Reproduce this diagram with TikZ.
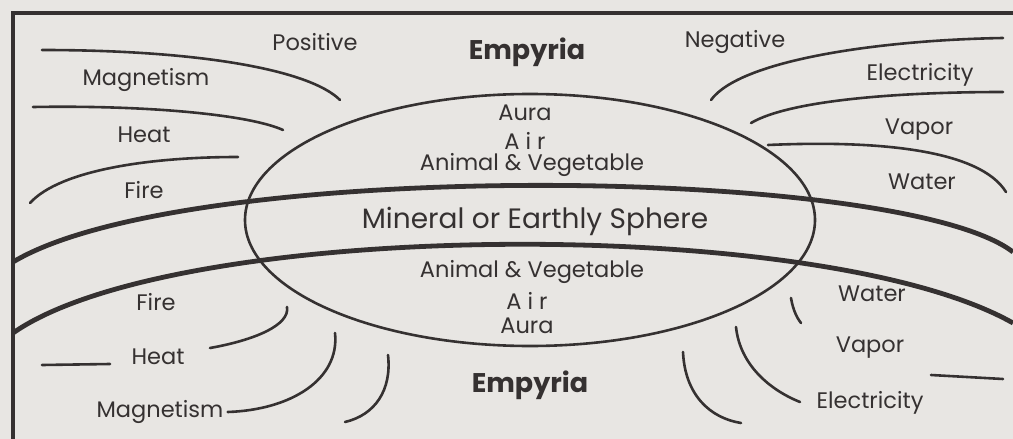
\documentclass[tikz,border=0pt]{standalone}
\usepackage{fontspec}
\setmainfont{Poppins}
\definecolor{ink}{HTML}{353131}
\definecolor{paper}{HTML}{E8E6E3}

\begin{document}
\begin{tikzpicture}[x=1pt,y=-1pt,
  every node/.style={text=ink,inner sep=0pt,font=\fontsize{22.5}{22.5}\selectfont},
  empyria/.style={font=\fontsize{27}{27}\selectfont\bfseries},
  earthly/.style={font=\fontsize{28}{28}\selectfont},
  curve/.style={draw=ink,line width=2.6pt,line cap=round},
  band/.style={draw=ink,line width=4.8pt}]
\fill[paper] (0,0) rectangle (1013,439);
\useasboundingbox (0,0) rectangle (1013,439);
\draw[ink,line width=4pt] (13,441) -- (13,13) -- (1015,13);

\draw[band] (13,262) .. controls (186,158) and (900,165) .. (1013,252);
\draw[band] (13,333) .. controls (176,219) and (820,214) .. (1013,323);
\draw[curve] (530,220) ellipse [x radius=285, y radius=126];

\node[empyria] (empTop) at (527,52) {Empyria};
\node[empyria] (empBot) at (530,385) {Empyria};
\node[earthly] (mineral) at (535,221) {Mineral or Earthly Sphere};

\node (auraTop) at (525,113) {Aura};
\node (airTop) at (525,141) {A i r};
\node (animalTop) at (532,165) {Animal \& Vegetable};
\node (animalBot) at (532,272) {Animal \& Vegetable};
\node (airBot) at (527,301) {A i r};
\node (auraBot) at (527,326) {Aura};

\node (positive) at (315,42) {Positive};
\node (magTop) at (146,80) {Magnetism};
\node (heatTop) at (144,135) {Heat};
\node (fireTop) at (144,190) {Fire};
\node (negative) at (735,42) {Negative};
\node (elecTop) at (920,75) {Electricity};
\node (vaporTop) at (919,130) {Vapor};
\node (waterTop) at (922,182) {Water};

\node (fireBot) at (156,302) {Fire};
\node (heatBot) at (158,357) {Heat};
\node (magBot) at (160,412) {Magnetism};
\node (waterBot) at (872,294) {Water};
\node (vaporBot) at (870,348) {Vapor};
\node (elecBot) at (870,403) {Electricity};

\draw[curve] (42,50) .. controls (200,50) and (310,70) .. (340,100);
\draw[curve] (33,107) .. controls (150,105) and (250,115) .. (283,130);
\draw[curve] (30,203) .. controls (60,170) and (150,157) .. (238,157);
\draw[curve] (711,100) .. controls (740,60) and (880,40) .. (1003,38);
\draw[curve] (751,123) .. controls (790,100) and (900,92) .. (1003,92);
\draw[curve] (768,145) .. controls (880,140) and (980,150) .. (1006,192);

\draw[curve] (42,365) -- (110,364);
\draw[curve] (210,348) .. controls (255,340) and (290,325) .. (287,307);
\draw[curve] (magBot.east) ++(4,0) .. controls (290,410) and (340,380) .. (335,333);
\draw[curve] (388,355) .. controls (392,390) and (375,415) .. (345,422);
\draw[curve] (791,298) .. controls (793,310) and (797,318) .. (801,323);
\draw[curve] (736,327) .. controls (740,365) and (770,390) .. (800,402);
\draw[curve] (683,352) .. controls (685,395) and (710,418) .. (741,423);
\draw[curve] (931,375) -- (1003,379);
\end{tikzpicture}
\end{document}
